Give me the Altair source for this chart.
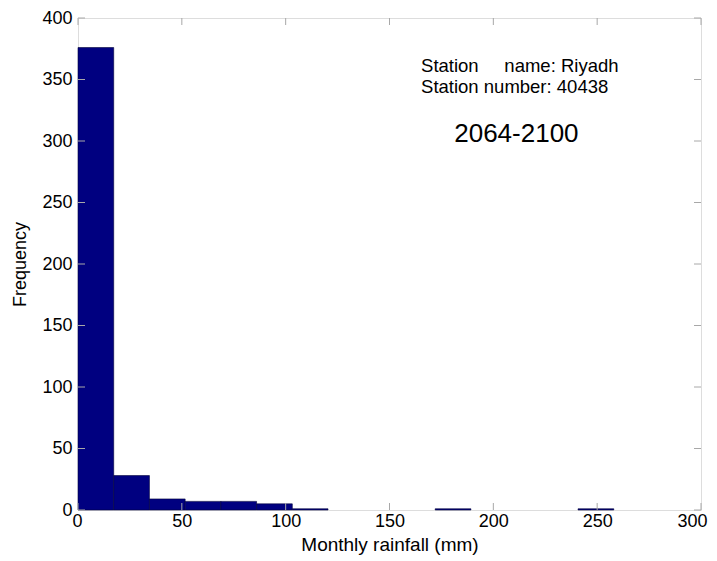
import altair as alt
import pandas as pd

bin_width = 17.2
counts = [376, 28, 9, 7, 7, 5, 1, 0, 0, 0, 1, 0, 0, 0, 1]
x_ticks = [0, 50, 100, 150, 200, 250, 300]
y_ticks = [0, 50, 100, 150, 200, 250, 300, 350, 400]
info_lines = ["Station\u00a0\u00a0\u00a0\u00a0\u00a0name: Riyadh", "Station number: 40438"]
period = "2064-2100"

bars = pd.DataFrame({
    "start": [i * bin_width for i in range(len(counts))],
    "end": [(i + 1) * bin_width for i in range(len(counts))],
    "count": counts,
})
bars = bars[bars["count"] > 0]

W, H = 623, 492
FONT = "Liberation Sans"
GRAY = "#a8a8a8"

xs = alt.Scale(domain=[0, 300], nice=False, zero=False)
ys = alt.Scale(domain=[0, 400], nice=False)

xaxis = alt.Axis(values=x_ticks, title="Monthly rainfall (mm)", grid=False, ticks=False,
                 domain=False, labelFontSize=18, titleFontSize=19, labelFont=FONT,
                 titleFont=FONT, labelColor="black", titleColor="black", labelPadding=2,
                 titlePadding=5, titleFontWeight="normal", format="d",
                 labelFlush=True, labelFlushOffset=6)
yaxis = alt.Axis(values=y_ticks, title="Frequency", grid=False, ticks=False, domain=False,
                 labelFontSize=18, titleFontSize=18, labelFont=FONT, titleFont=FONT,
                 labelColor="black", titleColor="black", labelPadding=6, titlePadding=12,
                 titleFontWeight="normal", format="d")

hist = alt.Chart(bars).mark_rect(color="#000080", stroke="#00003a", strokeWidth=0.6).encode(
    x=alt.X("start:Q", scale=xs, axis=xaxis),
    x2="end:Q",
    y=alt.Y("count:Q", scale=ys, axis=yaxis),
    y2=alt.datum(0),
)

xt = pd.DataFrame({"v": x_ticks})
yt = pd.DataFrame({"v": y_ticks})
TL = 7
xticks_b = alt.Chart(xt).mark_rule(color=GRAY, strokeWidth=1).encode(
    x=alt.X("v:Q", scale=xs), y=alt.value(H), y2=alt.value(H - TL))
xticks_t = alt.Chart(xt).mark_rule(color=GRAY, strokeWidth=1).encode(
    x=alt.X("v:Q", scale=xs), y=alt.value(0), y2=alt.value(TL))
yticks_l = alt.Chart(yt).mark_rule(color=GRAY, strokeWidth=1).encode(
    y=alt.Y("v:Q", scale=ys), x=alt.value(0), x2=alt.value(TL))
yticks_r = alt.Chart(yt).mark_rule(color=GRAY, strokeWidth=1).encode(
    y=alt.Y("v:Q", scale=ys), x=alt.value(W), x2=alt.value(W - TL))

info = pd.DataFrame({"t": info_lines, "x": [165.2, 165.2], "y": [356, 339]})
info_text = alt.Chart(info).mark_text(align="left", baseline="alphabetic", fontSize=18.5,
                                      font=FONT, color="black").encode(
    x=alt.X("x:Q", scale=xs), y=alt.Y("y:Q", scale=ys), text="t:N")

per = pd.DataFrame({"t": [period], "x": [211.1], "y": [299.5]})
per_text = alt.Chart(per).mark_text(align="center", baseline="alphabetic", fontSize=26,
                                    font=FONT, color="black").encode(
    x=alt.X("x:Q", scale=xs), y=alt.Y("y:Q", scale=ys), text="t:N")

chart = alt.layer(hist, xticks_b, xticks_t, yticks_l, yticks_r, info_text, per_text).properties(
    width=W, height=H,
    autosize=alt.AutoSizeParams(type="none"),
    padding={"left": 70, "top": 10, "right": 8, "bottom": 53},
).configure_view(stroke=GRAY, strokeWidth=1).configure(background="white")

chart.save("out.html", embed_options={"renderer": "svg", "actions": False})
